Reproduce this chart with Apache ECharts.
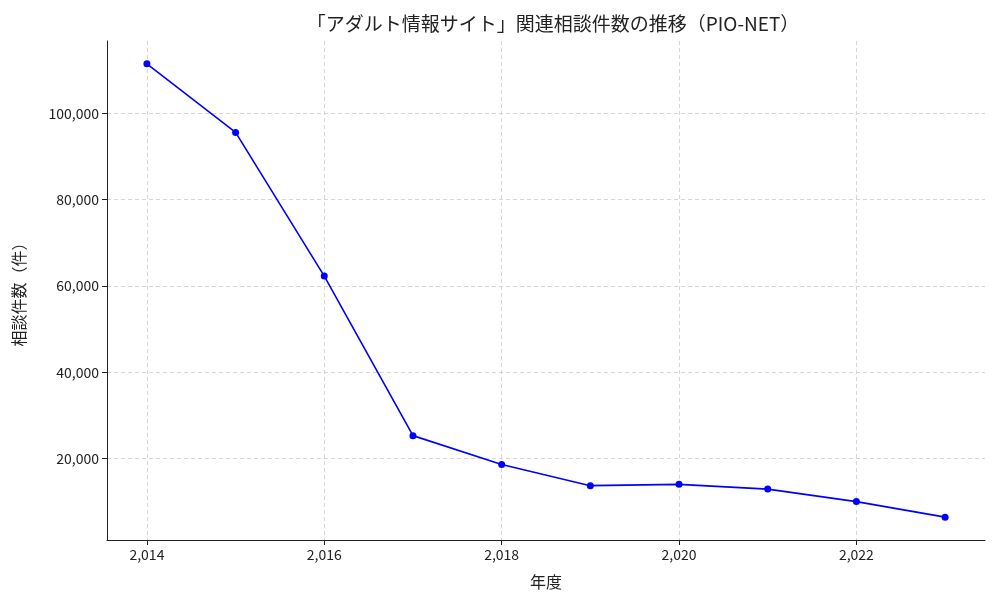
<!DOCTYPE html>
<html><head><meta charset="utf-8">
<script src="https://cdn.jsdelivr.net/npm/echarts@6/dist/echarts.min.js"></script>
<style>body{margin:0}#c{width:1000px;height:600px}</style></head>
<body><div id="c"></div>
<script>
const years=[2014,2015,2016,2017,2018,2019,2020,2021,2022,2023];
const counts=[111500,95600,62300,25300,18600,13700,14000,12900,10000,6400];
const xTicks=[2014,2016,2018,2020,2022];
const yTicks=[20000,40000,60000,80000,100000];
const f='"Noto Sans CJK JP","DejaVu Sans",sans-serif';
const grid={show:true,lineStyle:{color:'#cccccc',type:[4,3],width:0.8}};
const chart=echarts.init(document.getElementById('c'));
chart.setOption({
 title:{text:'「アダルト情報サイト」関連相談件数の推移（PIO-NET）',left:548,textAlign:'center',top:9,textStyle:{fontFamily:f,fontSize:19,fontWeight:'normal',color:'#222'}},
 grid:{left:107,right:15,top:41,bottom:60},
 xAxis:{type:'value',min:2013.55,max:2023.45,name:'年度',nameLocation:'middle',nameGap:34,nameTextStyle:{fontFamily:f,fontSize:16,color:'#222'},
  axisLine:{lineStyle:{color:'#222'}},axisTick:{customValues:xTicks,lineStyle:{color:'#222'}},
  axisLabel:{customValues:xTicks,fontFamily:f,fontSize:14,color:'#222'},splitLine:grid},
 yAxis:{type:'value',min:1100,max:116800,name:'相談件数（件）',nameLocation:'middle',nameGap:80,nameTextStyle:{fontFamily:f,fontSize:16,color:'#222'},
  axisLine:{show:true,lineStyle:{color:'#222'}},axisTick:{show:true,customValues:yTicks,lineStyle:{color:'#222'}},
  axisLabel:{customValues:yTicks,fontFamily:f,fontSize:14,color:'#222'},splitLine:grid},
 series:[{type:'line',data:years.map((y,i)=>[y,counts[i]]),color:'#0000ff',symbol:'circle',symbolSize:7,lineStyle:{width:1.6},itemStyle:{color:'#0000ff'}}]
});
</script></body></html>
